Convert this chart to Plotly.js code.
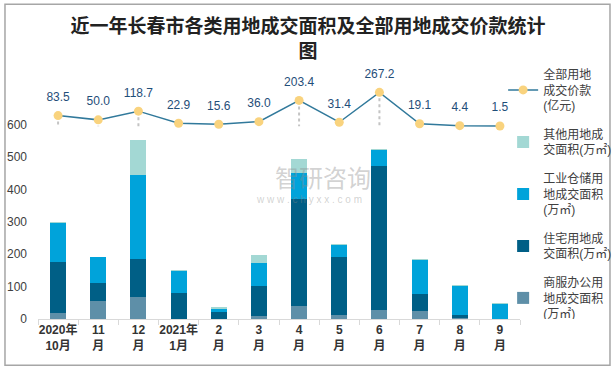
<!DOCTYPE html>
<html><head><meta charset="utf-8">
<script src="https://cdn.plot.ly/plotly-3.0.1.min.js"></script>
<style>html,body{margin:0;padding:0;background:#fff}</style>
</head><body><div id="chart" style="width:616px;height:370px"></div>
<script>
const months = ["2020年<br>10月","11<br>月","12<br>月","2021年<br>1月","2<br>月","3<br>月","4<br>月","5<br>月","6<br>月","7<br>月","8<br>月","9<br>月"];
const commercial = [19,56,69,0,0,9,41,13,29,25,2,0];
const residential = [158,56,117,81,22,94,330,178,444,52,10,0];
const industrial = [120,80,259,68,10,71,81,39,50,105,91,46];
const other = [3,0,109,3,6,25,42,2,3,3,2,3];
const price = [83.5,50.0,118.7,22.9,15.6,36.0,203.4,31.4,267.2,19.1,4.4,1.5];
const yTicks = [0,100,200,300,400,500,600];

const names = {
  commercial: "商服办公用<br>地成交面积<br>(万㎡)",
  residential: "住宅用地成<br>交面积(万㎡)",
  industrial: "工业仓储用<br>地成交面积<br>(万㎡)",
  other: "其他用地成<br>交面积(万㎡)",
  price: "全部用地<br>成交价款<br>(亿元)"
};
const FONT = "Arial, 'Noto Sans CJK SC', sans-serif";

const dropX = [], dropY = [];
months.forEach((m, i) => { dropX.push(m, m, null); dropY.push(price[i], 0, null); });

const data = [
  {type:'bar', x:months, y:commercial, name:names.commercial, legendgroup:'a', legendrank:5, marker:{color:'#5E8FA8'}},
  {type:'bar', x:months, y:residential, name:names.residential, legendgroup:'b', legendrank:4, marker:{color:'#005F86'}},
  {type:'bar', x:months, y:industrial, name:names.industrial, legendgroup:'c', legendrank:3, marker:{color:'#00A3DA'}},
  {type:'bar', x:months, y:other, name:names.other, legendgroup:'d', legendrank:2, marker:{color:'#A3D8D4'}},
  {type:'scatter', mode:'lines', x:dropX, y:dropY, yaxis:'y2', showlegend:false,
   line:{color:'#c4c4c4', width:2, dash:'dot'}},
  {type:'scatter', mode:'lines+markers', x:months, y:price, yaxis:'y2', name:names.price, legendgroup:'e', legendrank:1,
   line:{color:'#31799B', width:1.5}, marker:{color:'#F9D37E', size:9}},
  {type:'scatter', mode:'markers+text', x:months, y:price, yaxis:'y2', showlegend:false,
   marker:{size:17, color:'rgba(0,0,0,0)'},
   text:price.map(v => v.toFixed(1)), textposition:'top center',
   textfont:{size:12, color:'#1F4E79', family:FONT}}
];

const layout = {
  width:616, height:370,
  margin:{l:38, r:96, t:60, b:51, autoexpand:false},
  paper_bgcolor:'#ffffff', plot_bgcolor:'#ffffff',
  font:{family:FONT, size:12, color:'#404040'},
  hovermode:false,
  title:{text:"近一年长春市各类用地成交面积及全部用地成交价款统计<br>图",
    font:{family:"'Noto Sans CJK SC', sans-serif", size:19, color:'#222222', weight:'bold'},
    xref:'container', x:0.5, xanchor:'center', yref:'container', y:0.91, yanchor:'top'},
  barmode:'stack', bargap:0.6,
  xaxis:{type:'category', range:[-0.5, months.length - 0.5], tickson:'boundaries', ticks:'outside', ticklen:5, tickcolor:'#d9d9d9',
    tickangle:0, showline:true, linecolor:'#d9d9d9', linewidth:1, showgrid:false,
    tickfont:{size:12, color:'#333333', weight:'bold', family:FONT}},
  yaxis:{range:[0,800], tickvals:yTicks, showgrid:false, zeroline:false, showline:false,
    ticklabelstandoff:10, tickfont:{size:12, color:'#404040', family:FONT}},
  yaxis2:{overlaying:'y', range:[-1520,522], visible:false},
  legend:{x:0.965, xanchor:'left', y:1.0, yanchor:'top', traceorder:'grouped',
    tracegroupgap:10, bgcolor:'rgba(0,0,0,0)', font:{size:12, color:'#404040', family:FONT}},
  shapes:[{type:'rect', xref:'paper', yref:'paper', x0:-0.0685, x1:1.1867, y0:-0.1788, y1:1.2151,
    line:{color:'#a6a6a6', width:1.5}, fillcolor:'rgba(0,0,0,0)', layer:'below'}],
  annotations:[
    {text:'智研咨询', xref:'paper', yref:'paper', x:0.591, y:0.552, showarrow:false,
     font:{size:24, color:'rgba(140,140,140,0.4)', family:"'Noto Sans CJK SC', sans-serif"}},
    {text:'w w w . c h y x x . c o m', xref:'paper', yref:'paper', x:0.562, y:0.462, showarrow:false,
     font:{size:10, color:'rgba(140,140,140,0.4)', family:FONT}}
  ]
};

Plotly.newPlot('chart', data, layout, {displayModeBar:false, staticPlot:true});
</script></body></html>
